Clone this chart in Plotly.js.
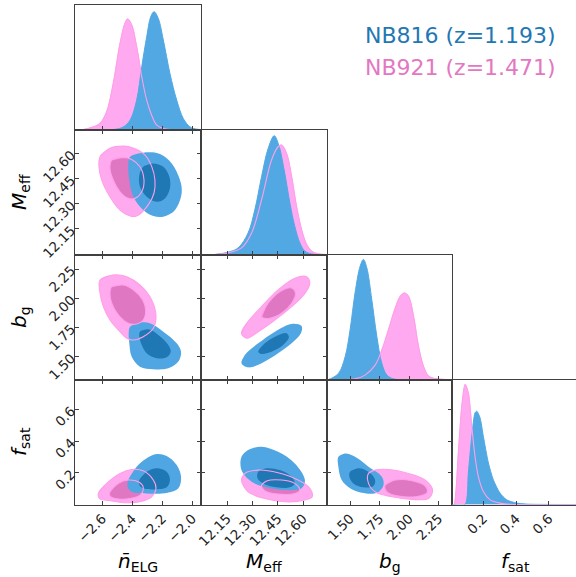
<!DOCTYPE html>
<html><head><meta charset="utf-8">
<script src="https://cdn.plot.ly/plotly-3.0.1.min.js"></script>
<style>html,body{margin:0;padding:0;background:#fff;overflow:hidden}#chart{width:576px;height:577px}</style>
</head><body><div id="chart"></div>
<script>
// ---------- tick values / labels ----------
const nelgTicks = [-2.6, -2.4, -2.2, -2.0];
const nelgLabels = ['\u22122.6', '\u22122.4', '\u22122.2', '\u22122.0'];
const meffTicks = [12.15, 12.30, 12.45, 12.60];
const meffLabels = ['12.15', '12.30', '12.45', '12.60'];
const bgTicks = [1.50, 1.75, 2.00, 2.25];
const bgLabels = ['1.50', '1.75', '2.00', '2.25'];
const fsatTicks = [0.2, 0.4, 0.6];
const fsatLabels = ['0.2', '0.4', '0.6'];

// ---------- 1D marginals ----------
const nelg_blue_x = [-2.78,-2.527,-2.46,-2.415,-2.371,-2.337,-2.304,-2.277,-2.255,-2.227,-2.193,-2.149,-2.104,-2.06,-2.015,-1.971,-1.94];
const nelg_blue_y = [0,0,0.021,0.075,0.236,0.504,0.745,0.906,0.946,0.893,0.718,0.45,0.236,0.088,0.021,0.003,0];
const nelg_pink_x = [-2.78,-2.727,-2.66,-2.615,-2.571,-2.527,-2.482,-2.449,-2.431,-2.404,-2.371,-2.337,-2.304,-2.271,-2.237,-2.193,-2.149,-1.94];
const nelg_pink_y = [0,0,0.021,0.048,0.142,0.37,0.69,0.853,0.888,0.84,0.665,0.424,0.236,0.115,0.035,0.008,0,0];

const meff_blue_x = [11.995,12.077,12.156,12.215,12.274,12.314,12.354,12.393,12.429,12.456,12.488,12.522,12.551,12.581,12.611,12.650,12.74];
const meff_blue_y = [0,0,0.019,0.053,0.172,0.358,0.623,0.849,0.95,0.875,0.676,0.411,0.225,0.093,0.027,0.005,0];
const meff_pink_x = [11.995,12.077,12.156,12.235,12.295,12.354,12.413,12.452,12.472,12.502,12.532,12.561,12.591,12.621,12.650,12.689,12.74];
const meff_pink_y = [0,0,0.013,0.053,0.172,0.438,0.756,0.862,0.875,0.809,0.623,0.385,0.199,0.080,0.027,0.005,0];

const bg_blue_x = [1.303,1.316,1.401,1.458,1.5,1.542,1.585,1.613,1.642,1.684,1.727,1.769,1.812,1.868,1.95,2.37];
const bg_blue_y = [0,0,0.048,0.182,0.397,0.692,0.906,0.96,0.893,0.638,0.343,0.129,0.035,0.005,0,0];
const bg_pink_x = [1.303,1.45,1.542,1.627,1.712,1.769,1.825,1.882,1.925,1.961,1.995,2.038,2.080,2.123,2.165,2.250,2.37];
const bg_pink_y = [0,0,0.005,0.035,0.115,0.236,0.397,0.571,0.665,0.692,0.665,0.504,0.263,0.102,0.027,0.003,0];

const fsat_blue_x = [0.010,0.088,0.108,0.129,0.149,0.160,0.180,0.2,0.231,0.261,0.302,0.343,0.405,0.466,0.767];
const fsat_blue_y = [0,0,0.251,0.545,0.733,0.746,0.693,0.545,0.332,0.198,0.091,0.037,0.011,0.003,0];
const fsat_pink_x = [0.010,0.021,0.047,0.068,0.088,0.108,0.129,0.149,0.169,0.2,0.241,0.302,0.384,0.767];
const fsat_pink_y = [0,0,0.412,0.786,0.96,0.893,0.626,0.385,0.225,0.104,0.037,0.011,0,0];

// ---------- 2D credible contours (68% / 95%), vertices ----------
const nM_pink95 = [[-2.615,12.580],[-2.549,12.630],[-2.460,12.643],[-2.395,12.632],[-2.315,12.590],[-2.269,12.518],[-2.249,12.441],[-2.255,12.364],[-2.295,12.292],[-2.371,12.227],[-2.415,12.227],[-2.482,12.262],[-2.549,12.342],[-2.604,12.441],[-2.622,12.520]];
const nM_pink68 = [[-2.537,12.560],[-2.46,12.576],[-2.404,12.564],[-2.349,12.520],[-2.322,12.441],[-2.337,12.371],[-2.382,12.332],[-2.427,12.332],[-2.482,12.371],[-2.527,12.441],[-2.549,12.511]];
const nM_blue95 = [[-2.415,12.580],[-2.327,12.604],[-2.215,12.596],[-2.137,12.540],[-2.082,12.441],[-2.071,12.362],[-2.115,12.263],[-2.193,12.223],[-2.26,12.227],[-2.327,12.263],[-2.393,12.342],[-2.42,12.441],[-2.427,12.520]];
const nM_blue68 = [[-2.327,12.520],[-2.26,12.540],[-2.193,12.520],[-2.153,12.461],[-2.149,12.392],[-2.182,12.332],[-2.237,12.312],[-2.304,12.342],[-2.349,12.401],[-2.353,12.471]];

const nb_pink95 = [[-2.615,2.156],[-2.527,2.199],[-2.437,2.184],[-2.349,2.113],[-2.271,1.985],[-2.242,1.842],[-2.26,1.743],[-2.327,1.671],[-2.393,1.643],[-2.437,1.658],[-2.482,1.714],[-2.549,1.814],[-2.593,1.928],[-2.615,2.042]];
const nb_pink68 = [[-2.537,2.099],[-2.46,2.113],[-2.393,2.071],[-2.331,1.985],[-2.311,1.900],[-2.327,1.814],[-2.371,1.780],[-2.427,1.786],[-2.493,1.857],[-2.537,1.957],[-2.549,2.042]];
const nb_blue95 = [[-2.415,1.757],[-2.349,1.791],[-2.282,1.786],[-2.193,1.714],[-2.104,1.615],[-2.075,1.543],[-2.093,1.458],[-2.16,1.401],[-2.26,1.393],[-2.349,1.415],[-2.404,1.500],[-2.42,1.615],[-2.424,1.700]];
const nb_blue68 = [[-2.349,1.714],[-2.293,1.734],[-2.227,1.686],[-2.16,1.600],[-2.144,1.543],[-2.171,1.495],[-2.237,1.487],[-2.304,1.530],[-2.337,1.600],[-2.353,1.671]];

const nf_pink95 = [[-2.627,0.070],[-2.571,0.133],[-2.482,0.196],[-2.404,0.221],[-2.327,0.212],[-2.26,0.154],[-2.242,0.102],[-2.271,0.049],[-2.349,0.017],[-2.437,0.011],[-2.549,0.024],[-2.62,0.039]];
const nf_pink68 = [[-2.549,0.080],[-2.493,0.133],[-2.427,0.154],[-2.36,0.143],[-2.327,0.108],[-2.349,0.059],[-2.415,0.038],[-2.515,0.038],[-2.549,0.053]];
const nf_blue95 = [[-2.427,0.154],[-2.371,0.238],[-2.304,0.291],[-2.237,0.318],[-2.171,0.306],[-2.104,0.249],[-2.075,0.175],[-2.093,0.102],[-2.171,0.073],[-2.304,0.070],[-2.404,0.080],[-2.431,0.112]];
const nf_blue68 = [[-2.353,0.154],[-2.304,0.206],[-2.237,0.228],[-2.171,0.206],[-2.149,0.154],[-2.171,0.108],[-2.249,0.095],[-2.327,0.102],[-2.353,0.123]];

const Mb_pink95 = [[12.235,1.700],[12.274,1.800],[12.354,1.928],[12.452,2.071],[12.551,2.171],[12.621,2.184],[12.640,2.128],[12.611,2.042],[12.532,1.928],[12.433,1.814],[12.334,1.714],[12.265,1.658]];
const Mb_pink68 = [[12.354,1.842],[12.393,1.957],[12.462,2.056],[12.532,2.088],[12.555,2.042],[12.532,1.957],[12.472,1.871],[12.403,1.829]];
const Mb_blue95 = [[12.235,1.444],[12.255,1.515],[12.334,1.614],[12.433,1.714],[12.532,1.780],[12.591,1.762],[12.587,1.700],[12.532,1.614],[12.452,1.529],[12.354,1.444],[12.274,1.409]];
const Mb_blue68 = [[12.334,1.543],[12.373,1.615],[12.443,1.677],[12.502,1.700],[12.516,1.666],[12.482,1.600],[12.413,1.543],[12.354,1.524]];

const Mf_pink95 = [[12.235,0.154],[12.255,0.196],[12.334,0.217],[12.452,0.200],[12.571,0.154],[12.640,0.102],[12.654,0.049],[12.611,0.028],[12.492,0.017],[12.373,0.038],[12.274,0.080]];
const Mf_pink68 = [[12.354,0.122],[12.384,0.148],[12.472,0.154],[12.551,0.133],[12.581,0.091],[12.551,0.070],[12.452,0.066],[12.373,0.087]];
const Mf_blue95 = [[12.235,0.301],[12.274,0.343],[12.354,0.364],[12.452,0.332],[12.551,0.259],[12.611,0.154],[12.591,0.102],[12.492,0.091],[12.384,0.108],[12.295,0.143],[12.235,0.217]];
const Mf_blue68 = [[12.334,0.206],[12.384,0.228],[12.462,0.217],[12.532,0.175],[12.551,0.133],[12.522,0.108],[12.443,0.108],[12.363,0.133],[12.330,0.165]];

const bf_pink95 = [[1.656,0.196],[1.712,0.217],[1.825,0.221],[1.995,0.196],[2.137,0.154],[2.199,0.091],[2.165,0.038],[2.024,0.032],[1.854,0.049],[1.712,0.080],[1.656,0.133]];
const bf_pink68 = [[1.797,0.122],[1.882,0.154],[2.024,0.150],[2.137,0.116],[2.152,0.074],[2.052,0.049],[1.910,0.053],[1.812,0.080]];
const bf_blue95 = [[1.401,0.301],[1.458,0.322],[1.542,0.301],[1.656,0.238],[1.769,0.175],[1.783,0.122],[1.727,0.074],[1.599,0.074],[1.5,0.102],[1.429,0.154],[1.401,0.238]];
const bf_blue68 = [[1.5,0.206],[1.571,0.228],[1.656,0.206],[1.712,0.154],[1.698,0.116],[1.613,0.108],[1.528,0.133],[1.494,0.175]];

// ---------- styling ----------
const BLUE1D = '#52a8e3', PINK1D = '#ffaaf0';
const BLUE95 = '#50a6e2', BLUE68 = '#1f77b4';
const PINK95 = '#ffaaee', PINK68 = '#e077c3';
const PINKLINE = '#ff9fea';
const AXC = '#404040';
const FONT = 'DejaVu Sans';

const W = 576, H = 577;
const colPx = [[75, 201], [201, 326.7], [326.7, 452.3], [452.3, 576]];
const rowPx = [[5, 129.5], [129.5, 254.5], [254.5, 379.5], [379.5, 504.5]];
const xRanges = [[-2.782, -1.942], [11.995, 12.74], [1.302, 2.366], [0.010, 0.767]];
const yRanges = [null, [11.998, 12.742], [1.305, 2.374], [0.0, 0.788]];
const tickSets = [[nelgTicks, nelgLabels], [meffTicks, meffLabels], [bgTicks, bgLabels], [fsatTicks, fsatLabels]];

// panels: k, row, col
const panels = [];
let k = 0;
for (let r = 0; r < 4; r++) for (let c = 0; c <= r; c++) { k++; panels.push({k, r, c}); }
function pid(r, c) { return panels.find(p => p.r === r && p.c === c).k; }

const traces = [];
function axes(r, c) { const n = pid(r, c); return {xaxis: 'x' + (n === 1 ? '' : n), yaxis: 'y' + (n === 1 ? '' : n)}; }

function fillPoly(pts, r, c, color) {
  traces.push(Object.assign({
    type: 'scatter', mode: 'lines',
    x: pts.map(p => p[0]).concat([pts[0][0], pts[1][0]]),
    y: pts.map(p => p[1]).concat([pts[0][1], pts[1][1]]),
    fill: 'toself', fillcolor: color,
    line: {width: 0, shape: 'spline', smoothing: 1, color: color},
    hoverinfo: 'skip', showlegend: false
  }, axes(r, c)));
}
function outline(pts, r, c) {
  traces.push(Object.assign({
    type: 'scatter', mode: 'lines',
    x: pts.map(p => p[0]).concat([pts[0][0], pts[1][0]]),
    y: pts.map(p => p[1]).concat([pts[0][1], pts[1][1]]),
    line: {width: 1.1, shape: 'spline', smoothing: 1, color: PINKLINE},
    hoverinfo: 'skip', showlegend: false
  }, axes(r, c)));
}
function panel2d(r, c, p95, p68, b95, b68) {
  fillPoly(p95, r, c, PINK95);
  fillPoly(p68, r, c, PINK68);
  fillPoly(b95, r, c, BLUE95);
  fillPoly(b68, r, c, BLUE68);
  outline(p95, r, c);
  outline(p68, r, c);
}
function panel1d(i, bx, by, px, py, sm) {
  traces.push(Object.assign({type: 'scatter', mode: 'lines', x: px, y: py, fill: 'tozeroy', fillcolor: PINK1D,
    line: {width: 1, color: PINK1D, shape: 'spline', smoothing: sm}, hoverinfo: 'skip', showlegend: false}, axes(i, i)));
  traces.push(Object.assign({type: 'scatter', mode: 'lines', x: bx, y: by, fill: 'tozeroy', fillcolor: BLUE1D,
    line: {width: 1, color: BLUE1D, shape: 'spline', smoothing: sm}, hoverinfo: 'skip', showlegend: false}, axes(i, i)));
  traces.push(Object.assign({type: 'scatter', mode: 'lines', x: px, y: py,
    line: {width: 1.1, color: PINKLINE, shape: 'spline', smoothing: sm}, hoverinfo: 'skip', showlegend: false}, axes(i, i)));
}

panel1d(0, nelg_blue_x, nelg_blue_y, nelg_pink_x, nelg_pink_y, 1);
panel1d(1, meff_blue_x, meff_blue_y, meff_pink_x, meff_pink_y, 1);
panel1d(2, bg_blue_x, bg_blue_y, bg_pink_x, bg_pink_y, 1);
panel1d(3, fsat_blue_x, fsat_blue_y, fsat_pink_x, fsat_pink_y, 0.7);
panel2d(1, 0, nM_pink95, nM_pink68, nM_blue95, nM_blue68);
panel2d(2, 0, nb_pink95, nb_pink68, nb_blue95, nb_blue68);
panel2d(3, 0, nf_pink95, nf_pink68, nf_blue95, nf_blue68);
panel2d(2, 1, Mb_pink95, Mb_pink68, Mb_blue95, Mb_blue68);
panel2d(3, 1, Mf_pink95, Mf_pink68, Mf_blue95, Mf_blue68);
panel2d(3, 2, bf_pink95, bf_pink68, bf_blue95, bf_blue68);

const layout = {
  width: W, height: H, margin: {l: 0, r: 0, t: 0, b: 0},
  paper_bgcolor: '#fff', plot_bgcolor: '#fff', showlegend: false,
  font: {family: FONT, size: 13, color: '#222'},
  annotations: []
};

panels.forEach(p => {
  const sfx = p.k === 1 ? '' : p.k;
  const diag = p.r === p.c;
  const xd = [colPx[p.c][0] / W, colPx[p.c][1] / W];
  const yd = [1 - rowPx[p.r][1] / H, 1 - rowPx[p.r][0] / H];
  const base = {showgrid: false, zeroline: false, showline: true, linecolor: AXC, linewidth: 1,
    ticks: 'inside', ticklen: 4, tickwidth: 1, tickcolor: AXC, fixedrange: true,
    tickfont: {family: FONT, size: 13.5, color: '#222'}};
  layout['xaxis' + sfx] = Object.assign({}, base, {
    domain: xd, range: xRanges[p.c], anchor: 'y' + sfx,
    tickmode: 'array', tickvals: tickSets[p.c][0], ticktext: tickSets[p.c][1],
    showticklabels: p.r === 3, tickangle: -45,
    mirror: diag ? true : 'ticks'
  });
  if (diag) {
    layout['yaxis' + sfx] = Object.assign({}, base, {
      domain: yd, range: [0, 1], anchor: 'x' + sfx, ticks: '', showticklabels: false,
      mirror: p.c === 3 ? false : true
    });
  } else {
    layout['yaxis' + sfx] = Object.assign({}, base, {
      domain: yd, range: yRanges[p.r], anchor: 'x' + sfx,
      tickmode: 'array', tickvals: tickSets[p.r][0], ticktext: tickSets[p.r][1],
      showticklabels: p.c === 0, tickangle: -45, mirror: 'ticks'
    });
  }
});

// axis titles
const xTitles = ['<i>n\u0304</i><sub>ELG</sub>', '<i>M</i><sub>eff</sub>', '<i>b</i><sub>g</sub>', '<i>f</i><sub>sat</sub>'];
const xTitleCenters = [138, 263.8, 389.5, 515];
xTitles.forEach((t, i) => layout.annotations.push({
  text: t, xref: 'paper', yref: 'paper', x: xTitleCenters[i] / W, y: 1 - 562 / H,
  xanchor: 'center', yanchor: 'middle', showarrow: false, font: {family: FONT, size: 20, color: '#000'}
}));
const yTitles = [null, '<i>M</i><sub>eff</sub>', '<i>b</i><sub>g</sub>', '<i>f</i><sub>sat</sub>'];
const yTitleCenters = [null, 192, 317, 442];
for (let i = 1; i < 4; i++) layout.annotations.push({
  text: yTitles[i], xref: 'paper', yref: 'paper', x: 20 / W, y: 1 - yTitleCenters[i] / H,
  xanchor: 'center', yanchor: 'middle', textangle: -90, showarrow: false, font: {family: FONT, size: 20, color: '#000'}
});

// legend text
const legendText = ['NB816 (z=1.193)', 'NB921 (z=1.471)'];
const legendColor = ['#1f77b4', '#e377c2'];
const legendY = [35, 67];
legendText.forEach((t, i) => layout.annotations.push({
  text: t, xref: 'paper', yref: 'paper', x: 363 / W, y: 1 - legendY[i] / H,
  xanchor: 'left', yanchor: 'middle', showarrow: false, font: {family: FONT, size: 22, color: legendColor[i]}
}));

Plotly.newPlot('chart', traces, layout, {staticPlot: true, displayModeBar: false});
</script></body></html>
